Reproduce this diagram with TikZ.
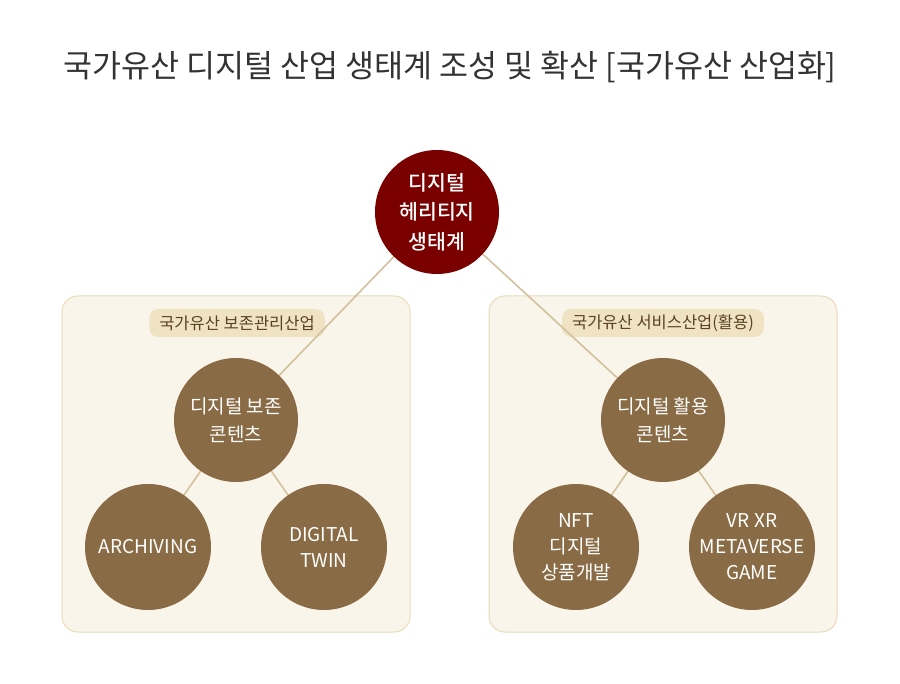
\documentclass[tikz,border=0pt]{standalone}
\usepackage{fontspec}
\setmainfont{Noto Sans CJK KR}
\newfontfamily\medfont{Noto Sans CJK KR Medium}
\definecolor{darkred}{HTML}{7A0000}
\definecolor{brown}{HTML}{896B45}
\definecolor{panelfill}{HTML}{FAF5EA}
\definecolor{panelline}{HTML}{E9DBB8}
\definecolor{pillfill}{HTML}{EFE3C3}
\definecolor{pilltext}{HTML}{5A4122}
\definecolor{linkcol}{HTML}{D3C19E}
\definecolor{titlecol}{HTML}{333333}
\begin{document}
\begin{tikzpicture}[x=1pt,y=-1pt,
  topc/.style={circle,fill=darkred,minimum size=124pt,inner sep=0pt,text=white,align=center,font=\fontsize{20.5}{29.5}\selectfont\medfont},
  midc/.style={circle,fill=brown,minimum size=124pt,inner sep=0pt,text=white,align=center,font=\fontsize{19}{28}\selectfont},
  botc/.style={circle,fill=brown,minimum size=126pt,inner sep=0pt,text=white,align=center,font=\fontsize{19}{26}\selectfont},
  panel/.style={draw=panelline,fill=panelfill,rounded corners=16pt,line width=1pt},
  pill/.style={fill=pillfill,rounded corners=9pt,text=pilltext,minimum height=28pt,inner xsep=10pt,font=\fontsize{16.5}{19}\selectfont},
  link/.style={draw=linkcol,line width=1.6pt}]
\useasboundingbox[fill=white] (0,0) rectangle (900,684);
\node[text=titlecol,font=\fontsize{31.5}{36}\selectfont] (title) at (450,67) {국가유산 디지털 산업 생태계 조성 및 확산 [국가유산 산업화]};
\path[panel] (62,296) rectangle (410,632);
\path[panel] (489,296) rectangle (837,632);
\node[pill] (pl) at (237,323) {국가유산 보존관리산업};
\node[pill] (pr) at (663,323) {국가유산 서비스산업(활용)};
\coordinate (ctop) at (437,212);
\coordinate (cml) at (236,420);
\coordinate (cmr) at (663,420);
\coordinate (cb1) at (148,547);
\coordinate (cb2) at (324,547);
\coordinate (cb3) at (576,547);
\coordinate (cb4) at (752,547);
\draw[link] (ctop) -- (cml);
\draw[link] (ctop) -- (cmr);
\draw[link] (cml) -- (cb1);
\draw[link] (cml) -- (cb2);
\draw[link] (cmr) -- (cb3);
\draw[link] (cmr) -- (cb4);
\node[topc] (top) at (ctop) {디지털\\헤리티지\\생태계};
\node[midc] (ml) at (cml) {디지털 보존\\콘텐츠};
\node[midc] (mr) at (cmr) {디지털 활용\\콘텐츠};
\node[botc] (b1) at (cb1) {ARCHIVING};
\node[botc] (b2) at (cb2) {DIGITAL\\TWIN};
\node[botc] (b3) at (cb3) {NFT\\디지털\\상품개발};
\node[botc] (b4) at (cb4) {VR XR\\METAVERSE\\GAME};
\end{tikzpicture}
\end{document}
